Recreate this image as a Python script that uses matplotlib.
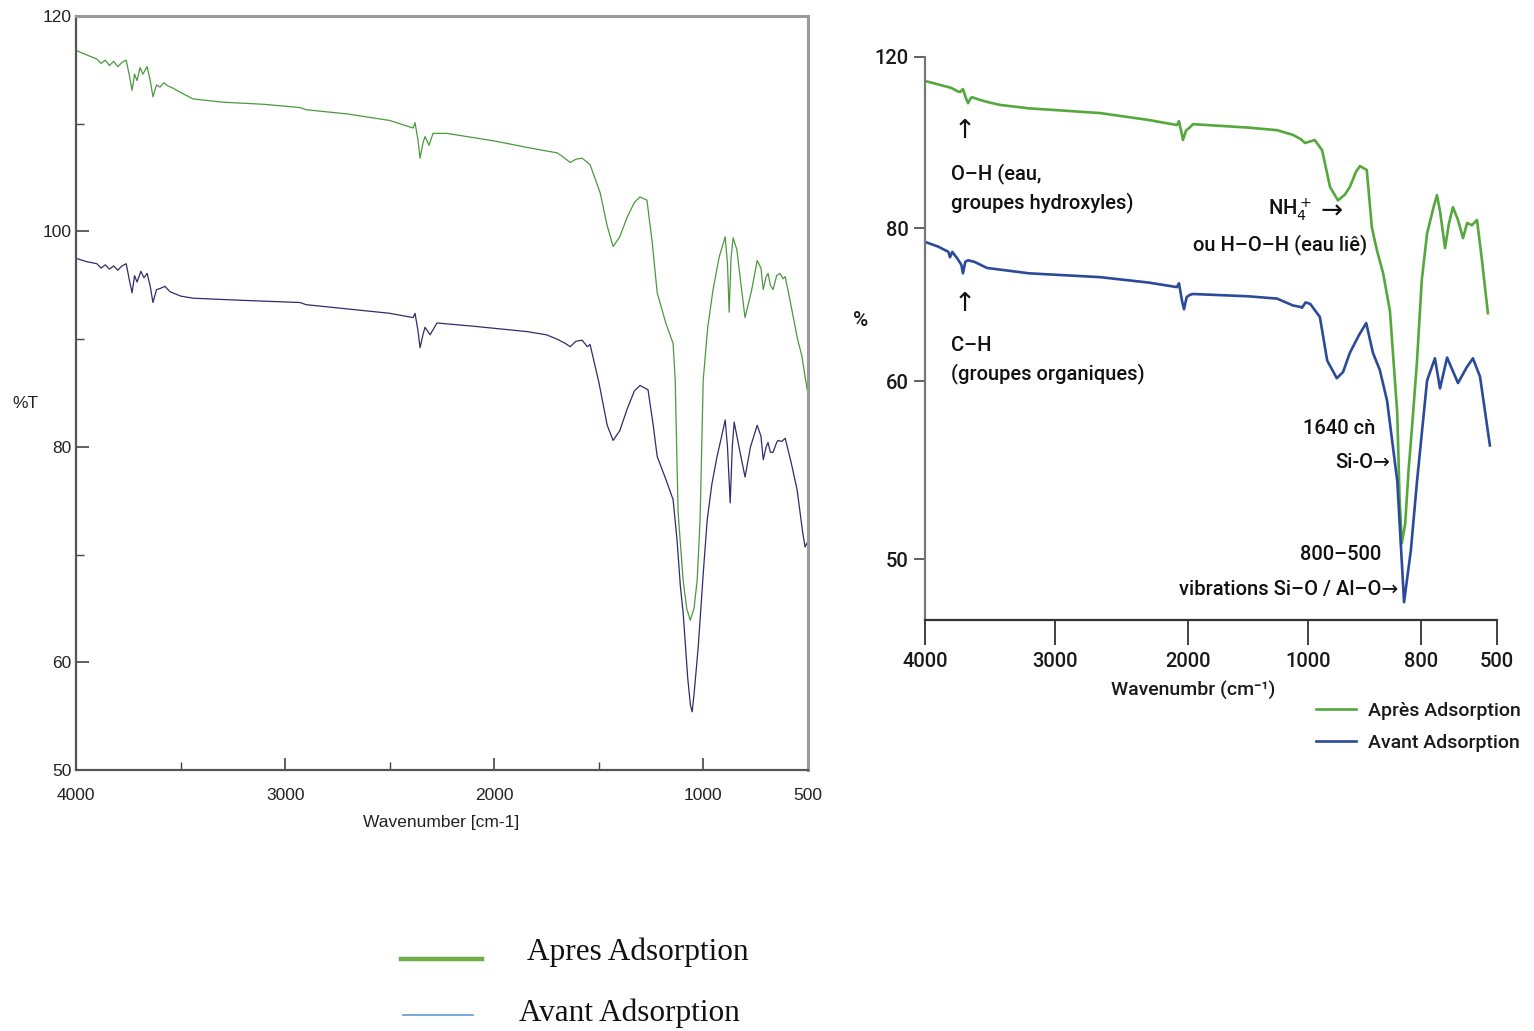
import numpy as np
import matplotlib
matplotlib.use("Agg")
import matplotlib.pyplot as plt
from matplotlib.lines import Line2D

# ---- left panel: raw FTIR spectra (%T vs wavenumber) ----
wn_apres_l = [4000, 3950, 3900, 3880, 3860, 3840, 3820, 3800, 3780, 3760, 3745, 3732,
              3720, 3708, 3694, 3680, 3660, 3645, 3632, 3615, 3598, 3580, 3560, 3536,
              3500, 3440, 3300, 3100, 2929, 2900, 2700, 2500, 2388, 2379, 2365, 2355,
              2340, 2331, 2312, 2293, 2226, 2000, 1843, 1760, 1700, 1670, 1637, 1610,
              1580, 1542, 1494, 1460, 1432, 1400, 1365, 1330, 1303, 1270, 1245, 1221,
              1180, 1145, 1135, 1121, 1097, 1080, 1063, 1045, 1030, 1016, 1001, 980,
              954, 925, 896, 885, 877, 868, 858, 840, 820, 801, 770, 743, 725, 714,
              700, 691, 680, 667, 650, 633, 620, 609, 590, 571, 550, 530, 504]
t_apres_l = [116.8, 116.4, 116.0, 115.6, 115.9, 115.4, 115.8, 115.3, 115.7, 115.9, 114.5, 113.1,
             114.6, 114.0, 115.2, 114.6, 115.3, 114.0, 112.5, 113.6, 113.4, 113.8, 113.5, 113.3,
             112.9, 112.3, 112.0, 111.8, 111.5, 111.3, 110.9, 110.3, 109.6, 110.1, 108.5, 106.8,
             108.3, 108.8, 108.0, 109.1, 109.1, 108.4, 107.8, 107.5, 107.3, 106.9, 106.4, 106.7,
             106.8, 106.2, 103.6, 100.5, 98.6, 99.5, 101.3, 102.7, 103.2, 102.9, 99.0, 94.3,
             91.5, 89.6, 86.2, 73.9, 67.6, 65.0, 63.9, 65.0, 67.6, 73.2, 86.2, 91.0,
             94.6, 97.6, 99.5, 97.0, 92.5, 97.5, 99.4, 98.3, 95.0, 92.0, 94.5, 97.3, 96.6, 94.6,
             95.8, 96.1, 95.0, 94.6, 95.9, 96.1, 95.6, 95.8, 94.0, 92.1, 90.0, 88.5, 85.3]

wn_avant_l = [4000, 3950, 3900, 3880, 3860, 3840, 3820, 3800, 3780, 3760, 3745, 3732,
              3720, 3708, 3690, 3675, 3660, 3645, 3632, 3615, 3598, 3575, 3550, 3500,
              3440, 3200, 2929, 2900, 2700, 2500, 2388, 2379, 2365, 2355, 2340, 2331,
              2307, 2274, 2100, 1843, 1750, 1700, 1660, 1637, 1610, 1580, 1555, 1542,
              1500, 1460, 1432, 1400, 1365, 1330, 1303, 1265, 1240, 1221, 1180, 1145,
              1126, 1110, 1097, 1075, 1062, 1054, 1045, 1025, 1000, 982, 960, 935,
              915, 896, 885, 872, 862, 853, 830, 801, 775, 743, 725, 714, 700, 691,
              680, 667, 650, 643, 625, 609, 580, 552, 525, 514, 504]
t_avant_l = [97.5, 97.2, 97.0, 96.6, 96.9, 96.5, 96.8, 96.4, 96.8, 97.0, 95.5, 94.3,
             95.9, 95.3, 96.3, 95.7, 96.1, 94.9, 93.4, 94.6, 94.7, 94.9, 94.4, 94.0,
             93.8, 93.6, 93.4, 93.2, 92.8, 92.4, 92.0, 92.4, 90.8, 89.2, 90.5, 91.1,
             90.4, 91.5, 91.2, 90.7, 90.4, 90.0, 89.6, 89.3, 89.8, 89.9, 89.3, 89.5,
             86.0, 82.0, 80.6, 81.5, 83.5, 85.2, 85.7, 85.3, 82.0, 79.1, 77.0, 75.1,
             71.3, 67.0, 64.6, 58.5, 56.0, 55.4, 57.0, 61.4, 68.5, 73.2, 76.5, 79.1,
             80.8, 82.5, 80.0, 74.8, 80.0, 82.3, 80.0, 77.2, 80.0, 82.0, 81.0, 78.8, 80.0, 80.4,
             79.5, 79.5, 80.4, 80.6, 80.5, 80.8, 78.5, 76.0, 72.0, 70.7, 71.1]

# ---- right panel: redrawn (smoothed) spectra ----
wn_apres_r = [4000, 3900, 3800, 3750, 3731, 3708, 3690, 3669, 3650, 3638, 3580, 3523,
              3423, 3200, 3000, 2662, 2300, 2083, 2068, 2050, 2038, 2015, 1983, 1958,
              1500, 1258, 1125, 1060, 1025, 988, 975, 961, 947, 935, 926, 915, 908,
              896, 887, 878, 867, 855, 842, 838, 834, 828, 822, 814, 807, 797, 776,
              750, 737, 725, 705, 690, 674, 654, 634, 618, 599, 579, 560, 536]
t_apres_r = [114.4, 113.6, 112.8, 112.0, 111.8, 112.5, 110.8, 109.2, 110.3, 110.6, 110.0, 109.5,
             108.8, 108.0, 107.6, 106.9, 105.3, 104.1, 105.0, 102.5, 100.6, 102.8, 103.6, 104.3,
             103.5, 102.9, 101.8, 100.8, 99.9, 100.6, 98.2, 89.6, 86.5, 87.8, 89.6, 93.2, 94.5,
             93.6, 80.2, 77.1, 74.1, 69.2, 58.2, 53.5, 50.9, 52.0, 55.0, 58.2, 62.7, 73.2, 79.3,
             85.0, 87.7, 84.0, 77.4, 81.0, 84.9, 81.9, 78.7, 81.2, 80.7, 81.9, 76.0, 68.9]

wn_avant_r = [4000, 3900, 3820, 3808, 3790, 3750, 3720, 3708, 3690, 3669, 3620, 3523,
              3200, 2662, 2300, 2083, 2068, 2045, 2030, 2010, 1983, 1958, 1500, 1258,
              1125, 1060, 1050, 1020, 996, 979, 966, 949, 938, 926, 910, 897, 885,
              873, 860, 842, 830, 818, 807, 776, 745, 725, 697, 654, 620, 595, 567, 528]
t_avant_r = [78.2, 77.6, 76.9, 76.2, 76.9, 76.0, 75.2, 74.1, 75.6, 75.8, 75.6, 74.8,
             74.1, 73.6, 72.9, 72.3, 72.8, 70.5, 69.4, 71.0, 71.3, 71.4, 71.1, 70.8,
             69.9, 69.7, 69.6, 70.3, 70.1, 68.4, 62.7, 60.4, 61.2, 63.7, 66.0, 67.6, 63.7,
             61.5, 58.9, 54.4, 47.6, 50.5, 54.4, 60.1, 63.0, 59.6, 63.1, 59.9, 61.8, 63.0, 60.6, 56.4]

# the right panel's axes are not linear: piecewise breakpoints (value -> relative position)
x_breaks = [0, 500, 800, 1000, 2000, 3000, 4000, 5000]
x_pos = [-1624, -1497, -1421, -1308, -1188, -1055, -925, -795]
y_breaks = [40, 50, 60, 80, 120, 130]
y_pos = [-737, -559, -381, -228, -57, -14]

W, H = 1534, 1031


def fx(px):
    return px / W


def fy(py):
    return 1 - py / H


SANS = ["Roboto", "DejaVu Sans"]
ARIAL = ["Liberation Sans", "DejaVu Sans"]

fig = plt.figure(figsize=(W / 100, H / 100), dpi=100)

# ================= left panel =================
ax1 = fig.add_axes([fx(76), fy(770), fx(808) - fx(76), fy(16) - fy(770)])
ax1.plot(wn_apres_l, t_apres_l, color="#4a9a3c", lw=0.9)
ax1.plot(wn_avant_l, t_avant_l, color="#2e2d6b", lw=0.9)
ax1.set_xlim(4000, 500)
ax1.set_ylim(50, 120)
ax1.set_xticks([4000, 3000, 2000, 1000, 500])
ax1.set_xticks([3500, 2500, 1500], minor=True)
ax1.set_yticks([120, 100, 80, 60, 50])
ax1.set_yticks([110, 90, 70], minor=True)
ax1.tick_params(which="both", direction="in", colors="#444", labelcolor="#222")
ax1.tick_params(which="major", length=9, width=1.2)
ax1.tick_params(which="minor", length=6, width=1.0)
ax1.tick_params(axis="x", pad=13)
ax1.tick_params(axis="y", pad=3)
for lab in ax1.get_xticklabels() + ax1.get_yticklabels():
    lab.set_family(ARIAL)
    lab.set_fontsize(12.5)
for s in ["left", "bottom"]:
    ax1.spines[s].set_color("#555")
    ax1.spines[s].set_linewidth(1.6)
for s in ["top", "right"]:
    ax1.spines[s].set_color("#999")
    ax1.spines[s].set_linewidth(2.2)
fig.text(fx(441), fy(823), "Wavenumber [cm-1]", ha="center", va="center",
         family=ARIAL, fontsize=12.5, color="#222")
fig.text(fx(12), fy(404), "%T", ha="left", va="center", family=ARIAL,
         fontsize=12.5, color="#222")

# ================= right panel =================
ax2 = fig.add_axes([fx(925), fy(620), fx(1497) - fx(925), fy(57) - fy(620)])
ax2.set_xscale("function", functions=(
    lambda v: np.interp(v, x_breaks, x_pos),
    lambda p: np.interp(p, x_pos, x_breaks)))
ax2.set_yscale("function", functions=(
    lambda v: np.interp(v, y_breaks, y_pos),
    lambda p: np.interp(p, y_pos, y_breaks)))
l_ap, = ax2.plot(wn_apres_r, t_apres_r, color="#54a83c", lw=1.9, label="Après Adsorption")
l_av, = ax2.plot(wn_avant_r, t_avant_r, color="#2b4a9a", lw=1.9, label="Avant Adsorption")
ax2.set_xlim(4000, 500)
ax2.set_ylim(46.6, 120)
ax2.set_xticks([4000, 3000, 2000, 1000, 800, 500])
ax2.set_xticks([], minor=True)
ax2.set_yticks([120, 80, 60, 50])
ax2.set_yticks([], minor=True)
ax2.set_xticklabels(["4000", "3000", "2000", "1000", "800", "500"])
ax2.set_yticklabels(["120", "80", "60", "50"])
ax2.spines["top"].set_visible(False)
ax2.spines["right"].set_visible(False)
ax2.spines["left"].set_color("#777")
ax2.spines["left"].set_linewidth(1.6)
ax2.spines["bottom"].set_color("#333")
ax2.spines["bottom"].set_linewidth(1.6)
ax2.tick_params(axis="x", direction="out", length=18, width=1.3, colors="#333", pad=5)
ax2.tick_params(axis="y", direction="out", length=8, width=1.3, colors="#555", pad=4)
for lab in ax2.get_xticklabels() + ax2.get_yticklabels():
    lab.set_family(SANS)
    lab.set_fontsize(14.5)
    lab.set_weight("medium")
    lab.set_color("#1a1a1a")

fig.text(fx(1193), fy(690), "Wavenumbr (cm⁻¹)", ha="center", va="center",
         family=SANS, fontsize=14, weight="medium", color="#1a1a1a")
fig.text(fx(861), fy(320), "%", ha="center", va="center", family=SANS,
         fontsize=15, weight="medium", color="#1a1a1a")

ann = dict(family=SANS, fontsize=14.5, weight="medium", color="#111", linespacing=1.45)
arr = dict(family=["DejaVu Sans"], fontsize=19, color="#111")
fig.text(fx(965), fy(131), "↑", ha="center", va="center", **arr)
fig.text(fx(951), fy(188), "O–H (eau,\ngroupes hydroxyles)", ha="left", va="center", **ann)
fig.text(fx(965), fy(304), "↑", ha="center", va="center", **arr)
fig.text(fx(951), fy(360), "C–H\n(groupes organiques)", ha="left", va="center", **ann)
fig.text(fx(1312), fy(210), r"NH$_4^+$", ha="right", va="center", **ann)
fig.text(fx(1343), fy(212), "→", ha="right", va="center", **arr)
fig.text(fx(1367), fy(245), "ou H–O–H (eau liê)", ha="right", va="center", **ann)
fig.text(fx(1375), fy(428), "1640 cǹ", ha="right", va="center", **ann)
fig.text(fx(1390), fy(463), "Si-O→", ha="right", va="center", **ann)
fig.text(fx(1381), fy(555), "800–500", ha="right", va="center", **ann)
fig.text(fx(1398), fy(590), "vibrations Si–O / Al–O→", ha="right", va="center", **ann)

leg = ax2.legend(handles=[l_ap, l_av], loc="upper left",
                 bbox_to_anchor=(fx(1302), fy(688)), bbox_transform=fig.transFigure,
                 frameon=False, handlelength=2.1, handletextpad=0.6,
                 labelspacing=0.75, borderpad=0.2,
                 prop={"family": SANS, "size": 14, "weight": "medium"})
for t in leg.get_texts():
    t.set_color("#1a1a1a")

# ================= bottom legend =================
fig.add_artist(Line2D([fx(401), fx(482)], [fy(959), fy(959)], color="#70ad47", lw=3.2))
fig.add_artist(Line2D([fx(403), fx(473)], [fy(1015), fy(1015)], color="#5b9bd5", lw=1.2))
serif = dict(family=["Liberation Serif", "DejaVu Serif"], fontsize=22.5, color="#111")
fig.text(fx(527), fy(952), "Apres Adsorption", ha="left", va="center", **serif)
fig.text(fx(519), fy(1013), "Avant Adsorption", ha="left", va="center", **serif)

fig.savefig("out.png", dpi=100)
